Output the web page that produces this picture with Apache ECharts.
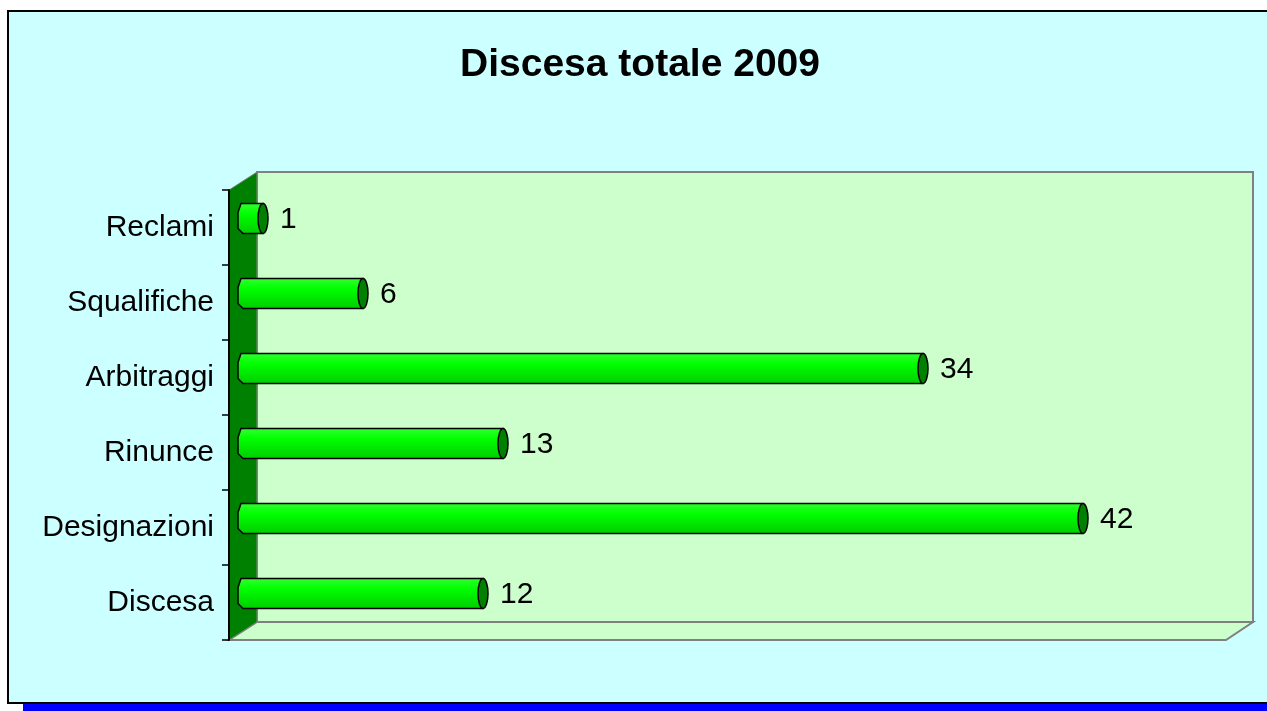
<!DOCTYPE html>
<html>
<head>
<meta charset="utf-8">
<script src="https://cdn.jsdelivr.net/npm/echarts@6/dist/echarts.min.js"></script>
<style>
  html, body { margin: 0; padding: 0; background: #fff; }
  #canvas { width: 1267px; height: 711px; }
</style>
</head>
<body>
<div id="canvas"></div>
<script>
// dati del grafico (dal basso verso l'alto)
var categories = ['Discesa', 'Designazioni', 'Rinunce', 'Arbitraggi', 'Squalifiche', 'Reclami'];
var values = [12, 42, 13, 34, 6, 1];
var axisMax = 50;

function drawChart() {
    var myChart = echarts.init(document.getElementById('canvas'));
    var font = 'Liberation Sans, Arial, sans-serif';

    // piano frontale (assi) e piano intermedio (barre)
    var front = { left: 229, top: 190, width: 997, height: 450 };
    var mid = { left: 243, top: 181, width: 1000, height: 450 };
    var back = { left: 257, top: 172, width: 996, height: 450 };

    // barra cilindrica
    function renderBar(params, api) {
        var v = api.value(0);
        var p0 = api.coord([0, api.value(1)]);
        var p1 = api.coord([v, api.value(1)]);
        var h = api.size([0, 1])[1] * 0.4;
        var top = p0[1] - h / 2, bot = p0[1] + h / 2;
        var rx = 5;
        var body = 'M' + p0[0] + ',' + top + ' L' + p1[0] + ',' + top +
            ' L' + p1[0] + ',' + bot + ' L' + p0[0] + ',' + bot +
            ' L' + (p0[0] - rx) + ',' + (bot - 5) + ' L' + (p0[0] - rx) + ',' + (top + 9) +
            ' L' + (p0[0] - 2) + ',' + top + ' Z';
        return {
            type: 'group',
            children: [{
                type: 'path',
                shape: { pathData: body },
                style: {
                    fill: new echarts.graphic.LinearGradient(0, 0, 0, 1, [
                        { offset: 0, color: '#33ff33' },
                        { offset: 0.35, color: '#00ff00' },
                        { offset: 1, color: '#00cc00' }
                    ]),
                    stroke: '#000', lineWidth: 1.5
                }
            }, {
                type: 'ellipse',
                shape: { cx: p1[0], cy: p1[1], rx: rx, ry: h / 2 },
                style: { fill: '#008000', stroke: '#000', lineWidth: 1.5 }
            }, {
                type: 'text',
                x: p1[0] + 17,
                y: p1[1] + 1,
                style: {
                    text: String(v), fill: '#000', fontSize: 30, fontFamily: font,
                    align: 'left', verticalAlign: 'middle'
                }
            }]
        };
    }

    var option = {
        backgroundColor: '#fff',
        animation: false,
        title: {
            text: 'Discesa totale 2009',
            left: 635, top: 41, textAlign: 'center',
            textStyle: { fontSize: 39, fontWeight: 'bold', fontFamily: font, color: '#000' }
        },
        graphic: [
            { type: 'rect', z: -20, shape: { x: 23, y: 700, width: 1260, height: 11 }, style: { fill: '#0000ff' } },
            { type: 'rect', z: -19, shape: { x: 8, y: 11, width: 1275, height: 692 }, style: { fill: '#ccffff', stroke: '#000', lineWidth: 2 } },
            // parete di fondo
            { type: 'rect', z: -18, shape: { x: back.left, y: back.top, width: back.width, height: back.height },
              style: { fill: '#ccffcc', stroke: '#808080', lineWidth: 2 } },
            // pavimento
            { type: 'polygon', z: -18, shape: { points: [[front.left, front.top + front.height], [back.left, back.top + back.height],
                [back.left + back.width, back.top + back.height], [front.left + front.width, front.top + front.height]] },
              style: { fill: '#ccffcc', stroke: '#808080', lineWidth: 2 } },
            // parete laterale
            { type: 'polygon', z: -17, shape: { points: [[front.left, front.top], [back.left, back.top],
                [back.left, back.top + back.height], [front.left, front.top + front.height]] },
              style: { fill: '#008000', stroke: '#808080', lineWidth: 1 } }
        ],
        grid: [
            { left: front.left, top: front.top, width: front.width, height: front.height },
            { left: mid.left, top: mid.top, width: mid.width, height: mid.height }
        ],
        xAxis: [
            { gridIndex: 0, type: 'value', min: 0, max: axisMax, show: false },
            { gridIndex: 1, type: 'value', min: 0, max: axisMax, show: false }
        ],
        yAxis: [{
            gridIndex: 0, type: 'category', data: categories,
            axisLine: { show: true, lineStyle: { color: '#000', width: 2 } },
            axisTick: { show: true, length: 7, lineStyle: { color: '#000', width: 1.5 } },
            axisLabel: { margin: 15, fontSize: 30, fontFamily: font, color: '#000' },
            splitLine: { show: false }
        }, {
            gridIndex: 1, type: 'category', data: categories, show: false
        }],
        series: [{
            type: 'custom',
            xAxisIndex: 1, yAxisIndex: 1,
            renderItem: renderBar,
            data: values.map(function (v, i) { return [v, i]; })
        }]
    };

    myChart.setOption(option);
}

drawChart();
</script>
</body>
</html>
